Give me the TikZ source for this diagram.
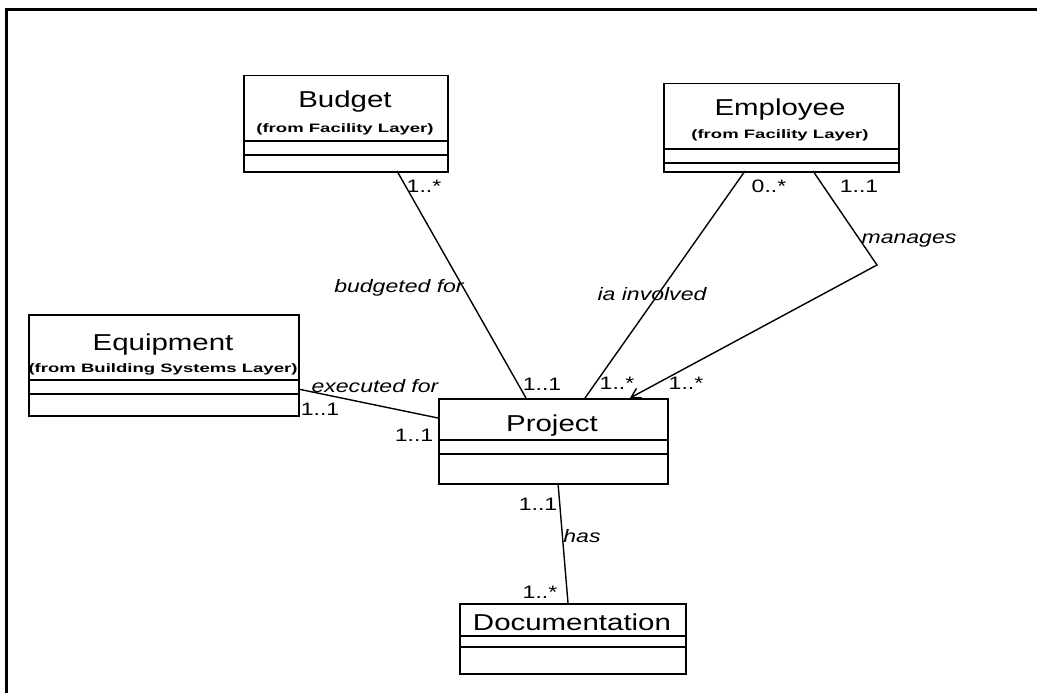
\documentclass[tikz,border=0pt]{standalone}
\usepackage{fontspec}
\setmainfont{Liberation Sans}[FakeStretch=1.28]
\newfontfamily\subfont{Liberation Sans}[FakeStretch=1.52]
\usetikzlibrary{arrows.meta}
\begin{document}
\begin{tikzpicture}[x=1pt,y=-1pt,
  cls/.style={draw,line width=1.5pt,inner sep=0pt,anchor=north west},
  sep/.style={line width=1.5pt},
  cname/.style={anchor=base,inner sep=0pt,font=\fontsize{23}{25}\selectfont},
  csub/.style={anchor=base,inner sep=0pt,font=\subfont\bfseries\fontsize{12.2}{14}\selectfont},
  mult/.style={anchor=base,inner sep=0pt,font=\fontsize{18}{20}\selectfont},
  role/.style={anchor=base,inner sep=0pt,font=\itshape\fontsize{18}{20}\selectfont},
  assoc/.style={line width=1.4pt},
  frame/.style={line width=3pt},
]
\useasboundingbox (0,0) rectangle (1037,693);
% frame
\draw[frame] (1037,10) -- (6,10) -- (6,693);

% Budget
\node[cls,minimum width=204pt,minimum height=96pt] (budget) at (243,75) {};
\draw[sep] (243,141) -- (447,141);
\draw[sep] (243,155) -- (447,155);
\node[cname] (budgetN) at (345,107) {Budget};
\node[csub] (budgetS) at (345,132) {(from Facility Layer)};

% Employee
\node[cls,minimum width=235pt,minimum height=88pt] (employee) at (663,83) {};
\draw[sep] (663,149) -- (898,149);
\draw[sep] (663,163) -- (898,163);
\node[cname] (employeeN) at (780,115) {Employee};
\node[csub] (employeeS) at (780,138) {(from Facility Layer)};

% Equipment
\node[cls,minimum width=270pt,minimum height=101pt] (equipment) at (28,314) {};
\draw[sep] (28,380) -- (298,380);
\draw[sep] (28,394) -- (298,394);
\node[cname] (equipmentN) at (163,350) {Equipment};
\node[csub] (equipmentS) at (163,372) {(from Building Systems Layer)};

% Project
\node[cls,minimum width=229pt,minimum height=85pt] (project) at (438,398) {};
\draw[sep] (438,440) -- (667,440);
\draw[sep] (438,454) -- (667,454);
\node[cname] (projectN) at (552,431) {Project};

% Documentation
\node[cls,minimum width=226pt,minimum height=70pt] (documentation) at (459,603) {};
\draw[sep] (459,636) -- (685,636);
\draw[sep] (459,647) -- (685,647);
\node[cname] (documentationN) at (572,630) {Documentation};

% attachment points
\coordinate (bB) at (397,171);
\coordinate (pB) at (526,398);
\coordinate (eI) at (745,171);
\coordinate (pI) at (585,398);
\coordinate (eM) at (813,171);
\coordinate (mBend) at (877,265);
\coordinate (pM) at (630,398);
\coordinate (qE) at (298,389);
\coordinate (pE) at (438,418);
\coordinate (pH) at (558,483);
\coordinate (dH) at (568,603);

% connectors
\draw[assoc] (bB) -- (pB);
\draw[assoc] (eI) -- (pI);
\draw[assoc,-{Straight Barb[length=9pt,width=11pt,line width=1.4pt]}] (eM) -- (mBend) -- (pM);
\draw[assoc] (qE) -- (pE);
\draw[assoc] (pH) -- (dH);

% labels
\node[mult] (l1) at (424,192) {1..*};
\node[role] (l2) at (399,292) {budgeted for};
\node[mult] (l3) at (542,390) {1..1};
\node[role] (l4) at (652,300) {ia involved};
\node[mult] (l5) at (769,192) {0..*};
\node[mult] (l6) at (859,192) {1..1};
\node[role] (l7) at (909,243) {manages};
\node[mult] (l8) at (617,389) {1..*};
\node[mult] (l9) at (686,389) {1..*};
\node[role] (l10) at (375,392) {executed for};
\node[mult] (l11) at (320,415) {1..1};
\node[mult] (l12) at (414,441) {1..1};
\node[mult] (l13) at (538,510) {1..1};
\node[role] (l14) at (582,542) {has};
\node[mult] (l15) at (540,598) {1..*};
\end{tikzpicture}
\end{document}
